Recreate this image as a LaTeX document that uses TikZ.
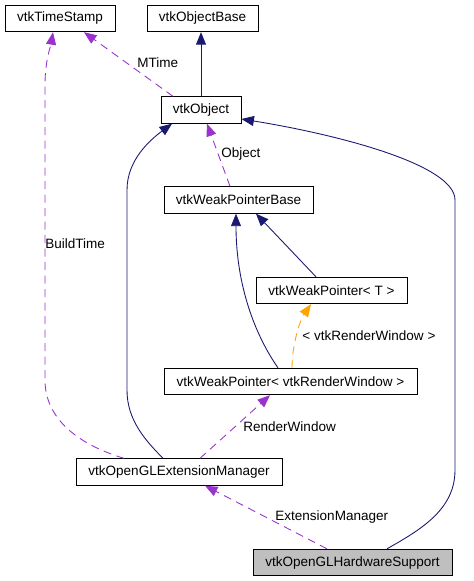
\documentclass[tikz,border=0pt]{standalone}
\usepackage{fontspec}
\setmainfont{Liberation Sans}
\usepackage{tikz}
\usetikzlibrary{arrows.meta}
\definecolor{navyline}{HTML}{191970}
\definecolor{usepurple}{HTML}{9A32CD}
\definecolor{tmplorange}{HTML}{FFA500}

\begin{document}
\begin{tikzpicture}[x=0.02cm,y=-0.02cm,
		cls/.style={draw,line width=0.5pt,inner sep=0pt,minimum height=0.53cm,font=\fontsize{7.7}{9}\selectfont},
		lbl/.style={inner sep=0pt,anchor=west,font=\fontsize{7.7}{9}\selectfont},
		inh/.style={navyline,line width=0.5pt,-{Triangle[length=2.5mm,width=2mm]}},
		uses/.style={usepurple,line width=0.5pt,dash pattern=on 1.6mm off 1.1mm,-{Triangle[length=2.5mm,width=2mm]}},
		tmpl/.style={tmplorange,line width=0.5pt,dash pattern=on 1.6mm off 1.1mm,-{Triangle[length=2.5mm,width=2mm]}}]
		%\draw [help lines] (0,0) grid (473,581);
		\useasboundingbox (0,0) rectangle (473,581);
		\node [cls,minimum width=2.2cm] (ts) at (60,18.5) {vtkTimeStamp};
		\node [cls,minimum width=2.22cm] (ob) at (202.5,18.5) {vtkObjectBase};
		\node [cls,minimum width=1.6cm] (obj) at (201,110) {vtkObject};
		\node [cls,minimum width=2.98cm] (wpb) at (238.5,200) {vtkWeakPointerBase};
		\node [cls,minimum width=3.02cm] (wpt) at (331.5,290.5) {vtkWeakPointer< T >};
		\node [cls,minimum width=5.06cm] (wprw) at (290.5,381.5) {vtkWeakPointer< vtkRenderWindow >};
		\node [cls,minimum width=4.12cm] (em) at (179,472) {vtkOpenGLExtensionManager};
		\node [cls,minimum width=3.98cm,fill=black!25] (hs) at (352.5,562.5) {vtkOpenGLHardwareSupport};
		
		\draw [inh] (obj.north) -- (obj.north |- ob.south);
		\draw [uses] ([xshift=-0.56cm]obj.north) -- ([xshift=0.48cm]ts.south);
		\node [lbl] (mtime) at (137,63) {MTime};
		
		\draw [uses] ([xshift=-1.1cm]em.north) .. controls (80,445) and (45,420) .. (45,380) -- (45,85) .. controls (45,60) and (51,45) .. ([xshift=-0.14cm]ts.south);
		\node [lbl] (buildtime) at (45,244) {BuildTime};
		\draw [inh] ([xshift=-0.32cm]em.north) .. controls (145,440) and (127,420) .. (127,390) -- (127,190) .. controls (127,160) and (150,140) .. ([xshift=-0.58cm]obj.south);
		
		\draw [uses] ([xshift=-0.17cm]wpb.north) -- ([xshift=0.12cm]obj.south);
		\node [lbl] (object) at (221,154) {Object};
		
		\draw [inh] ([xshift=-0.31cm]wpt.north) -- ([xshift=0.35cm]wpb.south);
		\draw [inh] ([xshift=-0.25cm]wprw.north) .. controls (255,335) and (236,285) .. ([xshift=-0.05cm]wpb.south);
		\draw [tmpl] ([xshift=0.03cm]wprw.north) .. controls (292,345) and (300,320) .. ([xshift=-0.41cm]wpt.south);
		\node [lbl] (rwarg) at (302,336) {< vtkRenderWindow >};
		
		\draw [uses] ([xshift=0.42cm]em.north) -- ([xshift=-0.41cm]wprw.south);
		\node [lbl] (renderwin) at (243,427) {RenderWindow};
		\draw [uses] ([xshift=-0.51cm]hs.north) -- ([xshift=0.52cm]em.south);
		\node [lbl] (extmgr) at (275,517) {ExtensionManager};
		\draw [inh] ([xshift=0.69cm]hs.north) .. controls (420,530) and (455,510) .. (455,470) -- (455,200) .. controls (455,165) and (340,135) .. ([yshift=-0.18cm]obj.east);
	\end{tikzpicture}
\end{document}
